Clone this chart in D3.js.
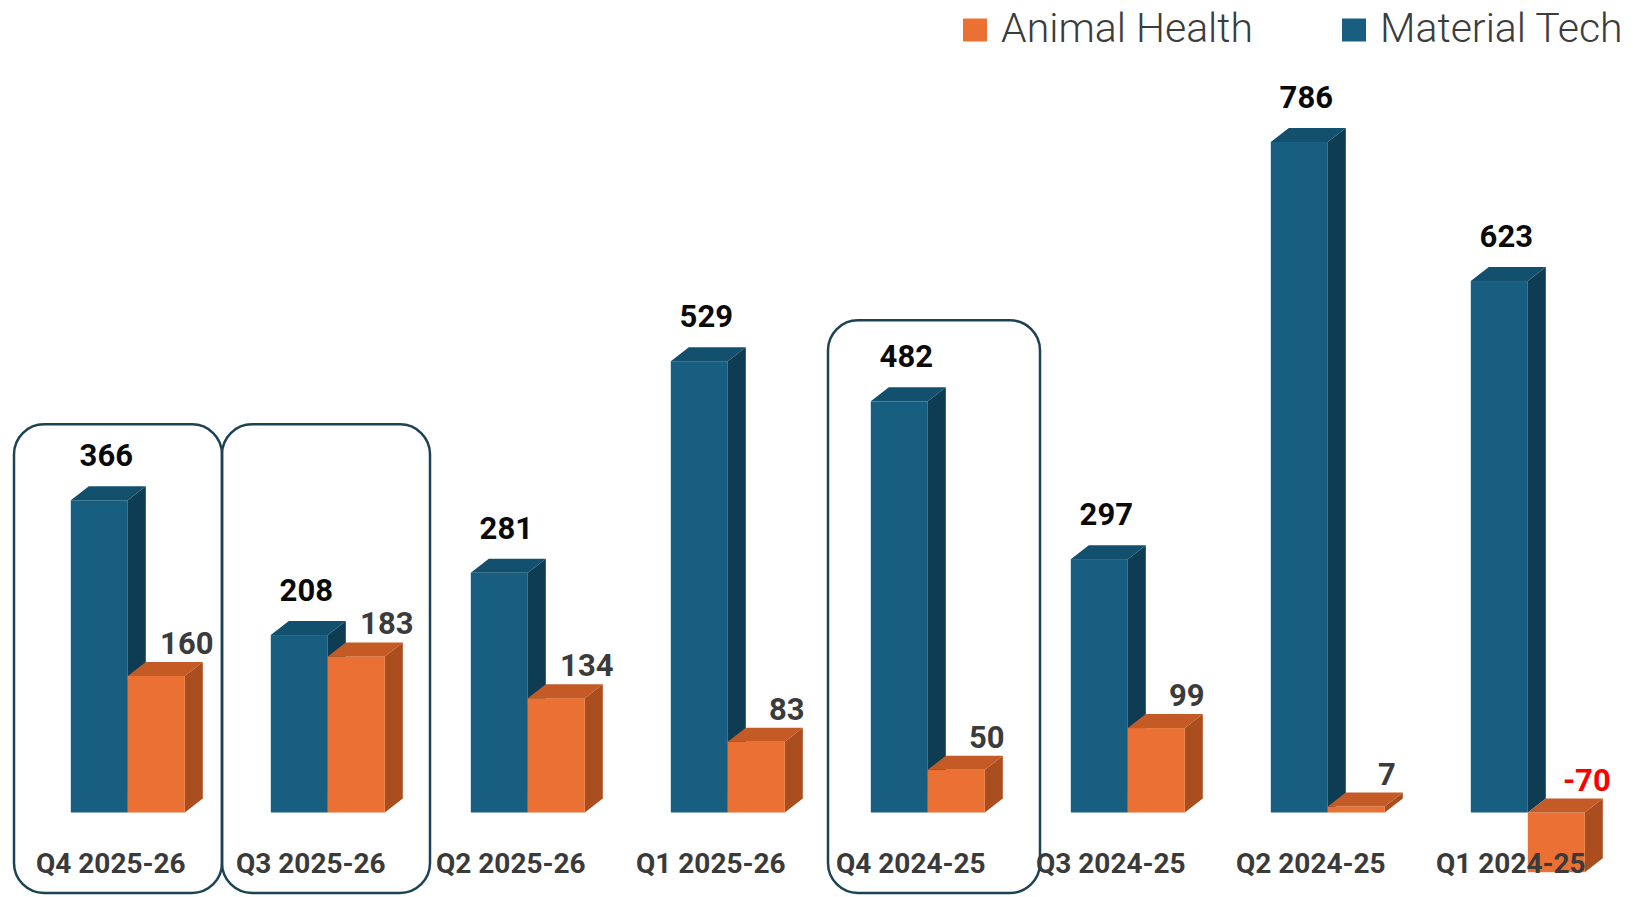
<!DOCTYPE html>
<html lang="en">
<head>
  <meta charset="UTF-8">
  <title>Animal Health vs Material Tech</title>
  <script src="https://cdn.jsdelivr.net/npm/d3@7/dist/d3.min.js"></script>
  <style>
    * { margin: 0; padding: 0; }
    html, body { background: #fff; overflow: hidden; }
    svg { display: block; }
  </style>
</head>
<body>
  <div id="chart"></div>
  <script>
  // data
  var quarters = ['Q4 2025-26', 'Q3 2025-26', 'Q2 2025-26', 'Q1 2025-26',
                  'Q4 2024-25', 'Q3 2024-25', 'Q2 2024-25', 'Q1 2024-25'];
  var materialTech = [366, 208, 281, 529, 482, 297, 786, 623];
  var animalHealth = [160, 183, 134, 83, 50, 99, 7, -70];
  var seriesNames = ['Animal Health', 'Material Tech'];
  // quarters that get a rounded frame
  var highlighted = ['Q4 2025-26', 'Q3 2025-26', 'Q4 2024-25'];

  var width = 1633, height = 897;
  var svg = d3.select('#chart').append('svg')
      .attr('width', width)
      .attr('height', height);

  var blue = { front: '#175e80', side: '#0e3c53', top: '#12506d' };
  var orange = { front: '#ea7133', side: '#aa4e1f', top: '#c45a25' };

  var x = d3.scaleBand().domain(quarters).range([20, 1620]);
  var y = d3.scaleLinear().domain([0, 786]).range([812.5, 142]);

  var barW = 57, dx = 18, dy = 14;

  // frames behind the highlighted quarters (the two adjacent ones share a top)
  var frameShift = [-6, 2, 8], frameW = [208, 208, 212];
  var pairTop = d3.min(highlighted.slice(0, 2), function (q) {
    return y(materialTech[quarters.indexOf(q)]);
  }) - 76;
  function frameTop(d, i) {
    if (i < 2) return pairTop;
    return y(materialTech[quarters.indexOf(d)]) - 81;
  }
  svg.selectAll('.frame')
    .data(highlighted)
    .enter()
    .append('rect')
      .attr('class', 'frame')
      .attr('x', function (d, i) { return x(d) + frameShift[i]; })
      .attr('y', frameTop)
      .attr('width', function (d, i) { return frameW[i]; })
      .attr('height', function (d, i) { return 893 - frameTop(d, i); })
      .attr('rx', 30)
      .attr('fill', 'none')
      .attr('stroke', '#1b4355')
      .attr('stroke-width', 2.5);

  // one 3d box: front, right side, top
  function drawBox(g, x0, v, colors) {
    var y0 = y(Math.max(v, 0)), y1 = y(Math.min(v, 0));
    var x1 = x0 + barW;
    g.append('path')
      .attr('fill', colors.side)
      .attr('d', 'M' + x1 + ',' + y0 + 'L' + (x1 + dx) + ',' + (y0 - dy) +
                 'L' + (x1 + dx) + ',' + (y1 - dy) + 'L' + x1 + ',' + y1 + 'Z');
    g.append('rect')
      .attr('fill', colors.front)
      .attr('x', x0).attr('y', y0)
      .attr('width', barW).attr('height', Math.max(y1 - y0, 0.5));
    g.append('path')
      .attr('fill', colors.top)
      .attr('d', 'M' + x0 + ',' + y0 + 'L' + (x0 + dx) + ',' + (y0 - dy) +
                 'L' + (x1 + dx) + ',' + (y0 - dy) + 'L' + x1 + ',' + y0 + 'Z');
  }

  var groups = svg.selectAll('.quarter')
    .data(quarters)
    .enter()
    .append('g')
      .attr('class', 'quarter');

  groups.each(function (q, i) {
    var g = d3.select(this);
    var bx = x(q) + 50.8;
    drawBox(g, bx, materialTech[i], blue);
    drawBox(g, bx + barW, animalHealth[i], orange);
  });

  // category labels
  groups.append('text')
    .attr('x', function (d) { return x(d) + 90.8; })
    .attr('y', 873)
    .attr('text-anchor', 'middle')
    .style('font-family', 'Roboto, sans-serif')
    .style('font-weight', 'bold')
    .style('font-size', '28px')
    .attr('fill', '#3a3a3a')
    .text(function (d) { return d; });

  // value labels
  groups.append('text')
    .attr('x', function (d) { return x(d) + 50.8 + barW / 2 + 7; })
    .attr('y', function (d, i) { return y(materialTech[i]) - 34; })
    .attr('text-anchor', 'middle')
    .style('font-family', 'Roboto, sans-serif')
    .style('font-weight', 'bold')
    .style('font-size', '31px')
    .attr('fill', '#0a0a0a')
    .text(function (d, i) { return materialTech[i]; });

  groups.append('text')
    .attr('x', function (d) { return x(d) + 50.8 + barW * 2 + 2; })
    .attr('y', function (d, i) { return y(Math.max(animalHealth[i], 0)) - 22; })
    .attr('text-anchor', 'middle')
    .style('font-family', 'Roboto, sans-serif')
    .style('font-weight', 'bold')
    .style('font-size', '31px')
    .attr('fill', function (d, i) { return animalHealth[i] < 0 ? '#ff0000' : '#3b3b3b'; })
    .text(function (d, i) { return animalHealth[i]; });

  // legend
  var legendX = [963, 1342];
  var legend = svg.selectAll('.legend')
    .data(seriesNames)
    .enter()
    .append('g')
      .attr('class', 'legend')
      .attr('transform', function (d, i) { return 'translate(' + legendX[i] + ',0)'; });
  legend.append('rect')
    .attr('x', 0).attr('y', 18.5)
    .attr('width', 24).attr('height', 23)
    .attr('fill', function (d, i) { return i === 0 ? orange.front : blue.front; });
  legend.append('text')
    .attr('x', 38)
    .attr('y', 42)
    .style('font-family', 'Roboto, sans-serif')
    .style('font-weight', '300')
    .style('font-size', '41px')
    .attr('fill', '#3c3c3c')
    .text(function (d) { return d; });
  </script>
</body>
</html>
